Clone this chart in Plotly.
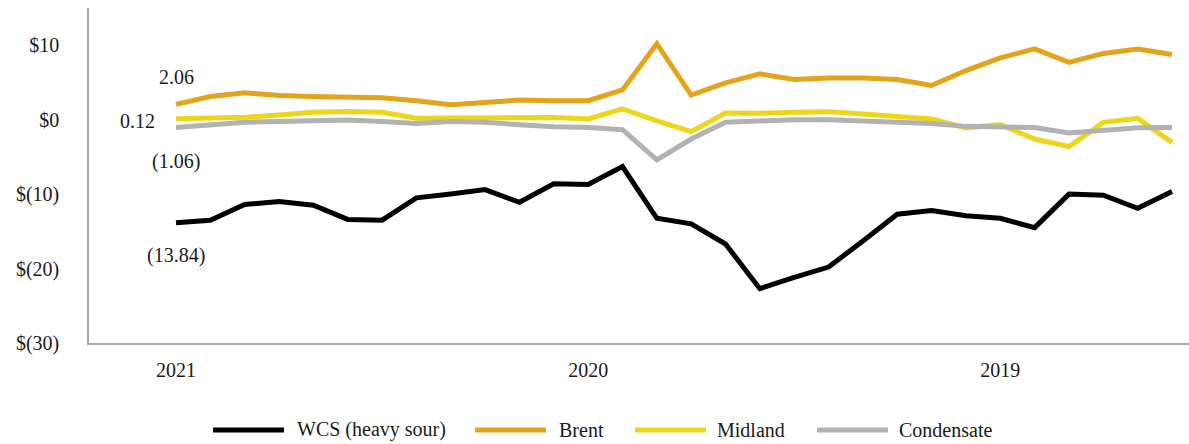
import plotly.graph_objects as go

# Monthly differentials, most recent month first (US$/bbl)
month_index = list(range(30))
year_labels = ["2021", "2020", "2019"]
year_label_months = [0, 12, 24]

wcs = [-13.84, -13.5, -11.4, -11.0, -11.5, -13.4, -13.5, -10.5, -10.0, -9.4,
       -11.1, -8.6, -8.7, -6.3, -13.25, -14.0, -16.7, -22.7, -21.2, -19.8,
       -16.3, -12.7, -12.2, -12.9, -13.25, -14.5, -10.0, -10.15, -11.9, -9.65]
brent = [2.06, 3.1, 3.6, 3.25, 3.1, 3.05, 2.95, 2.55, 2.0, 2.3,
         2.65, 2.55, 2.55, 4.0, 10.2, 3.3, 4.95, 6.15, 5.4, 5.6,
         5.6, 5.4, 4.6, 6.6, 8.3, 9.5, 7.7, 8.9, 9.5, 8.75]
midland = [0.12, 0.23, 0.31, 0.63, 0.98, 1.1, 1.0, 0.2, 0.2, 0.2,
           0.2, 0.3, 0.1, 1.45, -0.15, -1.6, 0.9, 0.85, 1.0, 1.08,
           0.77, 0.4, 0.1, -1.1, -0.67, -2.6, -3.6, -0.36, 0.18, -3.05]
condensate = [-1.06, -0.67, -0.36, -0.23, -0.13, -0.04, -0.23, -0.5, -0.23, -0.36,
              -0.67, -0.94, -1.04, -1.35, -5.4, -2.6, -0.36, -0.13, 0.0, 0.0,
              -0.13, -0.27, -0.5, -0.9, -1.04, -1.04, -1.8, -1.5, -1.1, -1.04]

y_ticks = [10, 0, -10, -20, -30]

series = [
    ("WCS (heavy sour)", wcs, "#000000"),
    ("Brent", brent, "#E3A31B"),
    ("Midland", midland, "#EDD619"),
    ("Condensate", condensate, "#B2B2B2"),
]

FONT = "Times New Roman, Liberation Serif, serif"
TEXT = "#1a1a1a"


def money(v):
    return f"${v}" if v >= 0 else f"$({abs(v)})"


def value_label(v):
    return f"{v:.2f}" if v >= 0 else f"({abs(v):.2f})"


fig = go.Figure()
for name, values, color in series:
    fig.add_trace(go.Scatter(
        x=month_index, y=values, name=name, mode="lines",
        line=dict(color=color, width=5), showlegend=False,
    ))

# labels on the first month of each series: (values, xshift, yshift)
start_labels = [(brent, 0, 27), (midland, -39, -2), (condensate, 0, -34), (wcs, 0, -33)]
for values, dx, dy in start_labels:
    fig.add_annotation(
        x=month_index[0], y=values[0], xref="x", yref="y",
        text=value_label(values[0]), showarrow=False,
        xshift=dx, yshift=dy, font=dict(family=FONT, size=20, color=TEXT),
    )

# legend row drawn below the plot
W_PLOT, H_PLOT, L, B = 1100, 335, 89, 101
legend_y = (343 - 430) / H_PLOT
legend_items = [(213, 295), (475, 557), (635, 715), (817, 897)]
for (name, _, color), (sx, tx) in zip(series, legend_items):
    fig.add_shape(
        type="line", xref="paper", yref="paper",
        x0=(sx - L) / W_PLOT, x1=(sx + 71 - L) / W_PLOT, y0=legend_y, y1=legend_y,
        line=dict(color=color, width=5),
    )
    fig.add_annotation(
        x=(tx - L) / W_PLOT, y=legend_y, xref="paper", yref="paper",
        text=name, showarrow=False, xanchor="left", yanchor="middle",
        font=dict(family=FONT, size=20, color=TEXT),
    )

spacing = (1172 - 176) / 29
fig.update_layout(
    width=1189, height=444,
    margin=dict(l=L, r=0, t=8, b=B),
    paper_bgcolor="white", plot_bgcolor="white",
    font=dict(family=FONT, size=20, color=TEXT),
    xaxis=dict(
        range=[(89 - 176) / spacing, (1189 - 176) / spacing],
        tickvals=year_label_months, ticktext=year_labels,
        showgrid=False, zeroline=False,
        showline=True, linecolor="#A6A6A6", linewidth=1.5,
        ticks="outside", ticklen=8, tickcolor="rgba(0,0,0,0)",
    ),
    yaxis=dict(
        range=[-30, 15],
        tickvals=y_ticks, ticktext=[money(v) for v in y_ticks],
        showgrid=False, zeroline=False,
        showline=True, linecolor="#A6A6A6", linewidth=1.5,
        ticks="outside", ticklen=24, tickcolor="rgba(0,0,0,0)",
    ),
)

fig.write_html("out.html")
